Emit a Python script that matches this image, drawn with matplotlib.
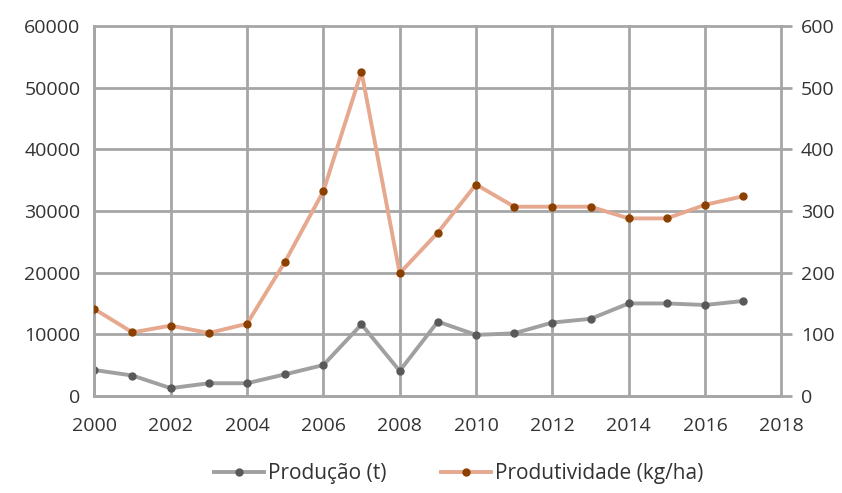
import matplotlib.pyplot as plt
import matplotlib.ticker as mticker

plt.rcParams['font.family'] = ['Open Sans', 'DejaVu Sans']

# dados
anos = [2000, 2001, 2002, 2003, 2004, 2005, 2006, 2007, 2008,
        2009, 2010, 2011, 2012, 2013, 2014, 2015, 2016, 2017]
producao = [4200, 3300, 1250, 2050, 2050, 3500, 5000, 11600, 4050,
            12050, 9900, 10150, 11900, 12500, 15000, 15000, 14750, 15400]
produtividade = [141, 103, 114, 102, 117, 218, 332, 526, 199,
                 265, 343, 307, 307, 307, 288, 288, 310, 324]

grade = '#a6a6a6'
texto = '#333333'
fig, ax = plt.subplots(figsize=(8.42, 4.93), dpi=100)
fig.subplots_adjust(left=0.112, right=0.928, top=0.947, bottom=0.197)
ax2 = ax.twinx()

l1, = ax.plot(anos, producao, '-o', color='#a0a0a0', lw=2.8,
              mfc='#595959', mec='#595959', ms=5, label='Produção (t)')
l2, = ax2.plot(anos, produtividade, '-o', color='#e6a88f', lw=2.8,
               mfc='#8b4000', mec='#8b4000', ms=5, label='Produtividade (kg/ha)')

ax.set_xlim(2000, 2018)
ax.set_ylim(0, 60000)
ax2.set_ylim(0, 600)
ax.xaxis.set_major_locator(mticker.MultipleLocator(2))
ax.yaxis.set_major_locator(mticker.MultipleLocator(10000))
ax2.yaxis.set_major_locator(mticker.MultipleLocator(100))

ax.grid(True, color=grade, lw=2)
ax.set_axisbelow(True)
for gl in ax.get_xgridlines() + ax.get_ygridlines():
    gl.set_clip_on(False)
for a in (ax, ax2):
    for s in a.spines.values():
        s.set_visible(False)
for lado in ('left', 'bottom'):
    ax.spines[lado].set_visible(True)
    ax.spines[lado].set_color(grade)
    ax.spines[lado].set_linewidth(2)

ax.tick_params(axis='y', length=0, labelsize=14, colors=texto, pad=10)
ax.tick_params(axis='x', length=0, labelsize=14, colors=texto, pad=15)
ax2.tick_params(axis='y', length=8, width=2, color=grade, labelsize=14,
                labelcolor=texto, pad=6)

fig.legend(handles=[l1, l2], loc='lower center', ncol=2, frameon=False,
           fontsize=15, bbox_to_anchor=(0.545, -0.02), handlelength=2.4,
           handletextpad=0.2, columnspacing=2.6, labelcolor=texto)

fig.savefig('out.png')
